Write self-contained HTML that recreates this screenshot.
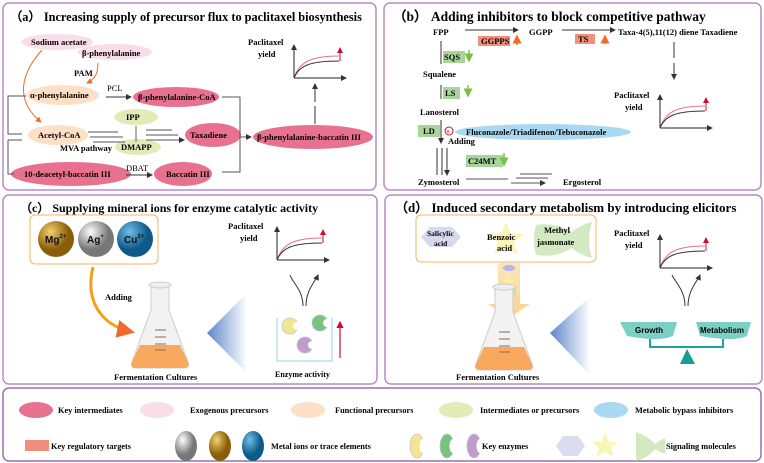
<!DOCTYPE html>
<html><head><meta charset="utf-8"><style>
body{margin:0;background:#fff}
svg{display:block;font-family:"Liberation Serif",serif;font-weight:bold}
.s{font-family:"Liberation Sans",sans-serif}
</style></head><body>
<svg width="764" height="463" viewBox="0 0 764 463" xmlns="http://www.w3.org/2000/svg">
<defs>
<marker id="a" markerWidth="6" markerHeight="6" refX="5" refY="3" orient="auto"><path d="M0,0L6,3L0,6z" fill="#333"/></marker>
<marker id="o" markerWidth="6" markerHeight="6" refX="5" refY="3" orient="auto"><path d="M0,0L6,3L0,6z" fill="#f06a2a"/></marker>
<marker id="g" markerWidth="6" markerHeight="6" refX="5" refY="3" orient="auto"><path d="M0,0L6,3L0,6z" fill="#7ac143"/></marker>
<marker id="r" markerWidth="6" markerHeight="6" refX="5" refY="3" orient="auto"><path d="M0,0L6,3L0,6z" fill="#c8102e"/></marker>
<radialGradient id="gold" cx="35%" cy="30%"><stop offset="0" stop-color="#f5d070"/><stop offset="1" stop-color="#8a5e08"/></radialGradient>
<radialGradient id="silv" cx="35%" cy="30%"><stop offset="0" stop-color="#fff"/><stop offset="1" stop-color="#777"/></radialGradient>
<radialGradient id="blu" cx="35%" cy="30%"><stop offset="0" stop-color="#6ec0e8"/><stop offset="1" stop-color="#0d5a8a"/></radialGradient>
<linearGradient id="tri" x1="0" x2="1"><stop offset="0" stop-color="#5b86c8"/><stop offset="1" stop-color="#fff"/></linearGradient>
<linearGradient id="band" x1="0" y1="0" x2="0" y2="1"><stop offset="0" stop-color="#fde6b8"/><stop offset="1" stop-color="#fbd090"/></linearGradient>
<g id="graph"><path d="M0,0H52" stroke="#222" stroke-width="1" marker-end="url(#a)" fill="none"/><path d="M0,0V-33" stroke="#222" marker-end="url(#a)"/><path d="M0,0C5,-15 15,-22 45,-22" stroke="#e8718f" fill="none"/><path d="M0,0C5,-12 15,-17 45,-17" stroke="#333" fill="none"/><path d="M46,-17V-30" stroke="#c8102e" marker-end="url(#r)"/></g>
<g id="flask"><path d="M-9,-55H9V-30L28,22Q30,28 24,28H-24Q-30,28 -28,22L-9,-30Z" fill="#f2f2f2" stroke="#ccc"/><ellipse cx="0" cy="-55" rx="11" ry="3" fill="#eee" stroke="#ccc"/><path d="M-20,5H20L28,22Q30,28 24,28H-24Q-30,28 -28,22Z" fill="#f9a95e"/><g stroke="#8a6a4a" stroke-width="1"><path d="M-5,-10H6M-5,-3H6M-5,4H6M-5,10H6"/></g></g>
</defs>
<g fill="none" stroke="#b98cc8" stroke-width="1.5">
<rect x="3" y="3" width="373" height="187" rx="6"/><rect x="384" y="3" width="377" height="187" rx="6"/>
<rect x="3" y="195" width="374" height="189" rx="6"/><rect x="385" y="195" width="377" height="189" rx="6"/>
<rect x="3" y="388" width="758" height="73" rx="6" stroke="#9a6fb5"/></g>
<!-- panel a -->
<text x="10" y="21" font-size="12.3">（a） Increasing supply of precursor flux to paclitaxel biosynthesis</text>
<ellipse cx="57" cy="42" rx="36" ry="8" fill="#f9dde8"/><text x="31" y="45" font-size="8.5">Sodium acetate</text>
<ellipse cx="115" cy="52" rx="37" ry="8" fill="#f9dde8"/><text x="82" y="56" font-size="8.5">β-phenylalanine</text>
<text x="74" y="76" font-size="8.5">PAM</text>
<path d="M42,50C15,80 20,105 41,122" stroke="#f06a2a" fill="none" marker-end="url(#o)"/>
<path d="M98,63C98,74 95,79 87,83" stroke="#f06a2a" fill="none" marker-end="url(#o)"/>
<ellipse cx="63" cy="95" rx="36" ry="10" fill="#fde0c6"/><text x="30" y="98" font-size="8.5">α-phenylalanine</text>
<text x="107" y="91" font-size="8.5" font-weight="normal">PCL</text>
<path d="M106,97H131" stroke="#333" marker-end="url(#a)"/>
<ellipse cx="176" cy="97" rx="43" ry="10" fill="#e8718f"/><text x="138" y="100" font-size="8.5">β-phenylalanine-CoA</text>
<ellipse cx="136" cy="117" rx="22" ry="8" fill="#e2ebb6"/><text x="126" y="120" font-size="8.5">IPP</text>
<ellipse cx="138" cy="147" rx="23" ry="8" fill="#e2ebb6"/><text x="121" y="150" font-size="8.5">DMAPP</text>
<path d="M136,126V142" stroke="#666"/>
<ellipse cx="58" cy="135" rx="30" ry="10" fill="#fde0c6"/><text x="38" y="138" font-size="8.5">Acetyl-CoA</text>
<text x="60" y="151" font-size="8.5">MVA pathway</text>
<path d="M88,132H118M90,137H123M93,142H125M146,130H172M146,135H178M146,140H184" stroke="#555" marker-end="url(#a)"/>
<ellipse cx="213" cy="135" rx="28" ry="12" fill="#e8718f"/><text x="190" y="138" font-size="8.5">Taxadiene</text>
<ellipse cx="313" cy="137" rx="60" ry="12" fill="#e8718f"/><text x="257" y="140" font-size="8.5">β-phenylalanine-baccatin III</text>
<ellipse cx="71" cy="174" rx="60" ry="12" fill="#e8718f"/><text x="24" y="177" font-size="8.5">10-deacetyl-baccatin III</text>
<text x="126" y="171" font-size="8.5" font-weight="normal">DBAT</text>
<path d="M126,175H152" stroke="#333" marker-end="url(#a)"/>
<ellipse cx="183" cy="174" rx="29" ry="12" fill="#e8718f"/><text x="166" y="177" font-size="8.5">Baccatin III</text>
<path d="M26,96H8V134H22M8,140H22M8,140V174H14" stroke="#555" fill="none"/>
<path d="M222,97H240V172H222" stroke="#555" fill="none"/><path d="M240,137H251" stroke="#555" marker-end="url(#a)"/>
<path d="M315,124V106M315,102V84" stroke="#333" marker-end="url(#a)"/>
<text x="248" y="45" font-size="8.5">Paclitaxel</text><text x="258" y="57" font-size="8.5">yield</text>
<use href="#graph" x="294" y="78"/>
<!-- panel b -->
<text x="393" y="21" font-size="13.5">（b） Adding inhibitors to block competitive pathway</text>
<g font-size="8.5">
<text x="433" y="35">FPP</text><path d="M465,30H518" stroke="#333" marker-end="url(#a)"/>
<rect x="478" y="36" width="32" height="10" fill="#f0907c"/><text x="481" y="44">GGPPS</text>
<path d="M517,45V36" stroke="#f06a2a" stroke-width="1.5" marker-end="url(#o)"/>
<text x="529" y="35">GGPP</text><path d="M562,30H615" stroke="#333" marker-end="url(#a)"/>
<rect x="575" y="34" width="20" height="10" fill="#f0907c"/><text x="578" y="42">TS</text>
<path d="M605,44V36" stroke="#f06a2a" stroke-width="1.5" marker-end="url(#o)"/>
<text x="618" y="35">Taxa-4(5),11(12) diene Taxadiene</text>
<path d="M441,41V64M441,85V99M441,120V143" stroke="#333" marker-end="url(#a)"/>
<rect x="443" y="51" width="22" height="12" fill="#a8d69a"/><text x="444" y="60">SQS</text>
<path d="M469,50V61" stroke="#7ac143" stroke-width="1.5" marker-end="url(#g)"/>
<text x="423" y="77">Squalene</text>
<rect x="443" y="87" width="17" height="12" fill="#a8d69a"/><text x="445" y="96">LS</text>
<path d="M468,85V96" stroke="#7ac143" stroke-width="1.5" marker-end="url(#g)"/>
<text x="420" y="115">Lanosterol</text>
<rect x="418" y="125" width="22" height="12" fill="#a8d69a"/><text x="423" y="134">LD</text>
<circle cx="449" cy="131" r="4" fill="none" stroke="#c8102e"/><text x="446" y="134" font-size="7" fill="#c8102e">×</text>
<ellipse cx="543" cy="132" rx="88" ry="8" fill="#aad8f3"/><text x="466" y="135">Fluconazole/Triadifenon/Tebuconazole</text>
<text x="448" y="144">Adding</text>
<path d="M437,148V175M442,148V175M447,148V175" stroke="#333" marker-end="url(#a)"/>
<rect x="466" y="155" width="37" height="12" fill="#a8d69a"/><text x="468" y="164">C24MT</text>
<path d="M504,153V165" stroke="#7ac143" stroke-width="1.5" marker-end="url(#g)"/>
<text x="418" y="185">Zymosterol</text>
<path d="M466,179H508M520,174H552M516,178H548M511,183H545" stroke="#555" marker-end="url(#a)"/>
<text x="563" y="185">Ergosterol</text>
<path d="M674,42V58M674,63V79" stroke="#333" marker-end="url(#a)"/>
<text x="614" y="98">Paclitaxel</text><text x="625" y="110">yield</text>
</g>
<use href="#graph" x="660" y="128"/>
<!-- panel c -->
<text x="20" y="212" font-size="12">（c） Supplying  mineral ions  for enzyme catalytic activity</text>
<rect x="30" y="215" width="128" height="49" rx="5" fill="#fff" stroke="#f5b563"/>
<circle cx="56" cy="239" r="18" fill="url(#gold)"/><circle cx="96" cy="239" r="18" fill="url(#silv)"/><circle cx="135" cy="239" r="18" fill="url(#blu)"/>
<g class="s" font-size="10" font-weight="bold" fill="#111"><text x="45" y="243">Mg<tspan font-size="6" dy="-5">2+</tspan></text><text x="87" y="243">Ag<tspan font-size="6" dy="-5">+</tspan></text><text x="124" y="243">Cu<tspan font-size="6" dy="-5">2+</tspan></text></g>
<path d="M93,267C85,300 100,325 132,332" stroke="#f5a019" stroke-width="3" fill="none" marker-end="url(#o)"/>
<text x="105" y="300" font-size="8.5">Adding</text>
<use href="#flask" x="160" y="340"/>
<text x="114" y="380" font-size="8.5">Fermentation Cultures</text>
<path d="M207,333L247,293V373Z" fill="url(#tri)"/>
<path d="M277,318V361H332V318" stroke="#8fd0ea" fill="none"/>
<g stroke="#b8c8d8" stroke-width="0.8">
<circle cx="290" cy="326" r="8" fill="#f6e58f"/><circle cx="320" cy="323" r="8" fill="#79c37f"/><circle cx="305" cy="345" r="8" fill="#c39bcb"/></g>
<circle cx="297" cy="326" r="4" fill="#fff"/><circle cx="327" cy="323" r="4" fill="#fff"/><circle cx="312" cy="345" r="4" fill="#fff"/>
<path d="M340,358V322" stroke="#c8102e" stroke-width="1.2" marker-end="url(#r)"/>
<text x="275" y="377" font-size="8">Enzyme activity</text>
<path d="M303,306C303,290 292,282 290,275M306,306C306,290 315,282 318,275" stroke="#333" fill="none" marker-end="url(#a)"/>
<text x="228" y="229" font-size="8.5">Paclitaxel</text><text x="240" y="241" font-size="8.5">yield</text>
<use href="#graph" x="277" y="260"/>
<!-- panel d -->
<text x="395" y="212" font-size="13">（d） Induced secondary metabolism by introducing elicitors</text>
<rect x="416" y="215" width="180" height="47" rx="5" fill="#fff" stroke="#f5b563"/>
<path d="M421,237L430,227H452L461,237L452,247H430Z" fill="#d8d8ee"/>
<path d="M506,222L511,234L524,234L514,242L518,255L506,247L494,255L498,242L488,234L501,234Z" fill="#f9f5b8"/>
<path d="M536,225Q556,222 572,232Q580,225 592,222Q586,240 592,258Q580,255 572,248Q556,258 536,255Q532,240 536,225Z" fill="#d3e9c2"/>
<g font-size="7.5"><text x="427" y="236">Salicylic</text><text x="434" y="246">acid</text></g>
<g font-size="8.5"><text x="487" y="240">Benzoic</text><text x="497" y="251">acid</text><text x="544" y="233">Methyl</text><text x="537" y="245">jasmonate</text></g>
<path d="M498,263H520V304H530L509,318L488,304H498Z" fill="url(#band)"/>
<path d="M502,268l4,-3h6l4,3l-4,3h-6z" fill="#b7b8e6"/>
<path d="M509,275l2,5h5l-4,3l2,5l-5,-3l-5,3l2,-5l-4,-3h5z" fill="#f6f2a0"/>
<path d="M501,287q8,-1 11,4q2,-3 5,-4q-2,5 0,10q-3,-1 -5,-4q-3,5 -11,4z" fill="#c8e2a8"/>
<use href="#flask" x="504" y="342"/>
<text x="456" y="380" font-size="8.5">Fermentation Cultures</text>
<path d="M550,333L590,297V375Z" fill="url(#tri)"/>
<text x="614" y="236" font-size="8.5">Paclitaxel</text><text x="625" y="248" font-size="8.5">yield</text>
<use href="#graph" x="660" y="268"/>
<path d="M685,306C685,290 675,282 672,275M688,306C688,290 697,282 700,275" stroke="#333" fill="none" marker-end="url(#a)"/>
<path d="M620,322H677L673,336Q660,342 627,336Z" fill="#7ccfc4"/>
<path d="M696,322H751L747,336Q735,342 700,336Z" fill="#7ccfc4"/>
<path d="M650,339V347H723V339" stroke="#1aa594" stroke-width="2" fill="none"/>
<path d="M687,349L680,364H695Z" fill="#13a08f"/>
<g class="s" font-size="8" font-weight="bold"><text x="635" y="333">Growth</text><text x="700" y="333">Metabolism</text></g>
<!-- legend -->
<g font-size="8.3" font-weight="bold">
<ellipse cx="36" cy="410" rx="17" ry="8" fill="#e8718f"/><text x="58" y="413">Key intermediates</text>
<ellipse cx="157" cy="410" rx="17" ry="8" fill="#f9dde8"/><text x="190" y="413">Exogenous precursors</text>
<ellipse cx="308" cy="410" rx="17" ry="8" fill="#fde0c6"/><text x="335" y="413">Functional precursors</text>
<ellipse cx="456" cy="410" rx="17" ry="8" fill="#e2ebb6"/><text x="480" y="413">Intermediates or precursors</text>
<ellipse cx="611" cy="410" rx="17" ry="8" fill="#aad8f3"/><text x="635" y="413">Metabolic bypass inhibitors</text>
<rect x="25" y="440" width="24" height="11" fill="#f0907c"/><text x="51" y="449">Key regulatory targets</text>
<ellipse cx="186" cy="446" rx="11" ry="15" fill="url(#silv)"/><ellipse cx="220" cy="446" rx="11" ry="15" fill="url(#gold)"/><ellipse cx="253" cy="446" rx="11" ry="15" fill="url(#blu)"/>
<text x="271" y="449">Metal ions or trace elements</text>
<g stroke="#b8c8d8" stroke-width="0.8"><ellipse cx="417" cy="446" rx="7" ry="12" fill="#f6e58f"/><ellipse cx="447" cy="446" rx="7" ry="12" fill="#79c37f"/><ellipse cx="474" cy="446" rx="7" ry="12" fill="#c39bcb"/></g>
<ellipse cx="423" cy="446" rx="3.5" ry="7" fill="#fff"/><ellipse cx="453" cy="446" rx="3.5" ry="7" fill="#fff"/><ellipse cx="480" cy="446" rx="3.5" ry="7" fill="#fff"/>
<text x="482" y="449">Key enzymes</text>
<path d="M556,446L563,436H578L585,446L578,456H563Z" fill="#dcdcf0"/>
<path d="M605,433l4,9h9l-7,6l3,9l-9,-5l-9,5l3,-9l-7,-6h9z" fill="#f9f5b8"/>
<path d="M636,432Q648,436 655,444Q660,440 665,438V454Q660,452 655,449Q648,458 636,461Z" fill="#d3e9c2"/>
<text x="666" y="449">Signaling molecules</text>
</g>
</svg>
</body></html>
